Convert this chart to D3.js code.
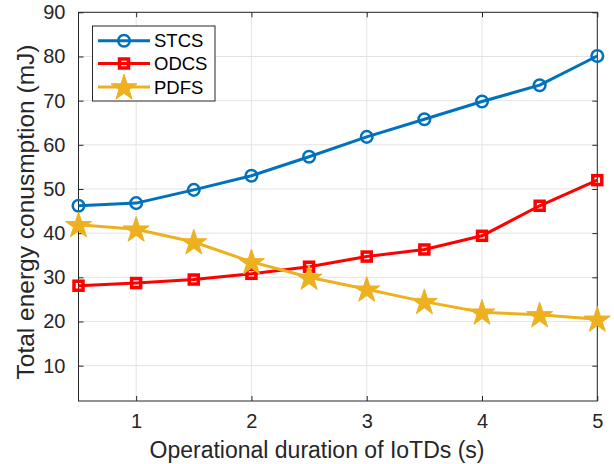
<!DOCTYPE html>
<html>
<head>
<meta charset="utf-8">
<script src="https://cdn.jsdelivr.net/npm/d3@7"></script>
<style>
html,body{margin:0;padding:0;background:#fff;}
svg{display:block;font-family:"Liberation Sans",Arial,Helvetica,sans-serif;}
</style>
</head>
<body>
<svg id="chart" width="614" height="464"></svg>
<script>
const xValues = [0.5, 1, 1.5, 2, 2.5, 3, 3.5, 4, 4.5, 5];
const stcs = [46.2, 46.8, 49.8, 53.0, 57.3, 61.8, 65.8, 69.8, 73.5, 80.1];
const odcs = [28.1, 28.7, 29.5, 30.8, 32.4, 34.7, 36.3, 39.4, 46.2, 52.0];
const pdfs = [41.9, 40.9, 38.0, 33.5, 30.0, 27.3, 24.5, 22.1, 21.5, 20.5];
const seriesNames = ["STCS", "ODCS", "PDFS"];
const xTicks = [1, 2, 3, 4, 5];
const yTicks = [10, 20, 30, 40, 50, 60, 70, 80, 90];
const xLabel = "Operational duration of IoTDs (s)";
const yLabel = "Total energy conusmption (mJ)";

const colors = ["#0072BD", "#FF0000", "#EDB120"];
const markers = ["circle", "square", "star"];
const seriesData = [stcs, odcs, pdfs];

const svg = d3.select("#chart");
const m = {left: 78.5, right: 597.3, top: 12.3, bottom: 401};
const x = d3.scaleLinear().domain([0.5, 5]).range([m.left, m.right]);
const y = d3.scaleLinear().domain([2, 90]).range([m.bottom, m.top]);

// grid
const grid = svg.append("g");
grid.selectAll(".gx").data(xTicks).enter().append("line")
  .attr("x1", d => x(d)).attr("x2", d => x(d))
  .attr("y1", m.top).attr("y2", m.bottom)
  .attr("stroke", "#e3e3e3").attr("stroke-width", 1);
grid.selectAll(".gy").data(yTicks).enter().append("line")
  .attr("y1", d => y(d)).attr("y2", d => y(d))
  .attr("x1", m.left).attr("x2", m.right)
  .attr("stroke", "#e3e3e3").attr("stroke-width", 1);

// axes
const tickLen = 5;
const xAxisB = d3.axisBottom(x).tickValues(xTicks).tickSize(-tickLen).tickPadding(13).tickFormat(d3.format("d"));
const xAxisT = d3.axisTop(x).tickValues(xTicks).tickSize(-tickLen).tickFormat("");
const yAxisL = d3.axisLeft(y).tickValues(yTicks).tickSize(-tickLen).tickPadding(13).tickFormat(d3.format("d"));
const yAxisR = d3.axisRight(y).tickValues(yTicks).tickSize(-tickLen).tickFormat("");

function styleAxis(g){
  g.select(".domain").remove();
  g.selectAll(".tick line").attr("stroke", "#262626").attr("stroke-width", 1);
  g.selectAll(".tick text").attr("fill", "#262626").style("font-size", "20px")
    .style("font-family", "'Liberation Sans',Arial,sans-serif");
}
svg.append("g").attr("transform", `translate(0,${m.bottom})`).call(xAxisB).call(styleAxis);
svg.append("g").attr("transform", `translate(0,${m.top})`).call(xAxisT).call(styleAxis);
svg.append("g").attr("transform", `translate(${m.left},0)`).call(yAxisL).call(styleAxis);
svg.append("g").attr("transform", `translate(${m.right},0)`).call(yAxisR).call(styleAxis);

svg.append("rect").attr("x", m.left).attr("y", m.top)
  .attr("width", m.right - m.left).attr("height", m.bottom - m.top)
  .attr("fill", "none").attr("stroke", "#262626").attr("stroke-width", 1);

// labels
svg.append("text").attr("x", 317).attr("y", 458)
  .attr("text-anchor", "middle").attr("fill", "#262626").style("font-size", "23px").text(xLabel);
svg.append("text").attr("transform", `translate(34,${212}) rotate(-90)`)
  .attr("text-anchor", "middle").attr("fill", "#262626").style("font-size", "24.5px").text(yLabel);

// markers
const starSym = d3.symbol().type(d3.symbolStar).size(210);
function drawMarker(g, type, color, cx, cy){
  if (type === "circle") {
    g.append("circle").attr("cx", cx).attr("cy", cy).attr("r", 5.8)
      .attr("fill", "none").attr("stroke", color).attr("stroke-width", 2.5);
  } else if (type === "square") {
    g.append("rect").attr("x", cx - 4.5).attr("y", cy - 4.5).attr("width", 9).attr("height", 9)
      .attr("fill", "none").attr("stroke", color).attr("stroke-width", 3.5);
  } else {
    g.append("path").attr("d", starSym()).attr("transform", `translate(${cx},${cy + 1})`)
      .attr("fill", color).attr("stroke", color).attr("stroke-width", 1);
  }
}

const line = d3.line().x((d, i) => x(xValues[i])).y(d => y(d));
seriesData.forEach((vals, k) => {
  const g = svg.append("g");
  g.append("path").datum(vals).attr("d", line).attr("fill", "none")
    .attr("stroke", colors[k]).attr("stroke-width", 3).attr("stroke-linejoin", "round");
  vals.forEach((v, i) => drawMarker(g, markers[k], colors[k], x(xValues[i]), y(v)));
});

// legend
const lg = svg.append("g");
lg.append("rect").attr("x", 92.5).attr("y", 26).attr("width", 122.5).attr("height", 75)
  .attr("fill", "#fff").attr("stroke", "#262626").attr("stroke-width", 1);
const legendY = [40.7, 63.5, 87];
seriesNames.forEach((name, k) => {
  lg.append("line").attr("x1", 98).attr("x2", 150).attr("y1", legendY[k]).attr("y2", legendY[k])
    .attr("stroke", colors[k]).attr("stroke-width", 3);
  drawMarker(lg, markers[k], colors[k], 124, legendY[k]);
  lg.append("text").attr("x", 154).attr("y", legendY[k] + 6.5).attr("fill", "#000")
    .style("font-size", "18.5px").text(name);
});
</script>
</body>
</html>
